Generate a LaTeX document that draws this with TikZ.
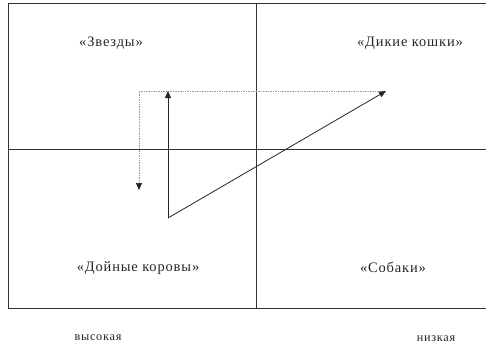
\documentclass[tikz,border=0pt]{standalone}
\usepackage{fontspec}
\setmainfont{Liberation Serif}
\newfontfamily\lblfont[LetterSpace=6]{Liberation Serif}
\usetikzlibrary{arrows.meta}
\begin{document}
\begin{tikzpicture}[x=1bp,y=-1bp,
  lbl/.style={font=\lblfont\fontsize{14.5}{16}\selectfont, text=black!85, inner sep=0pt},
  axislbl/.style={font=\lblfont\fontsize{12.3}{14}\selectfont, text=black!85, inner sep=0pt},
  frameline/.style={line width=0.9bp, black!80},
  solidarrow/.style={line width=0.8bp, black!85, -{Triangle[length=7bp,width=6bp]}},
  dotarrow/.style={line width=0.7bp, black!40, densely dotted, -{Triangle[length=7bp,width=6bp,color=black!85,fill=black!85]}}]
\useasboundingbox (0,0) rectangle (486,352);
% frame and dividers
\coordinate (tl) at (8,3);
\coordinate (tr) at (486,3);
\coordinate (bl) at (8,308);
\coordinate (br) at (486,308);
\coordinate (vt) at (256,3);
\coordinate (vb) at (256,308);
\coordinate (hl) at (8,149);
\coordinate (hr) at (486,149);
\draw[frameline] (tr) -- (tl) -- (bl) -- (br);
\draw[frameline, line width=0.8bp] (vt) -- (vb);
\draw[frameline, line width=0.8bp] (hl) -- (hr);
% labels
\node[lbl] (stars) at (111,43) {«Звезды»};
\node[lbl] (cats) at (410,43) {«Дикие кошки»};
\node[lbl] (cows) at (138,268) {«Дойные коровы»};
\node[lbl] (dogs) at (393,267) {«Собаки»};
\node[axislbl] (high) at (98,338) {высокая};
\node[axislbl] (low) at (436,339) {низкая};
% arrows
\coordinate (start) at (168,218);
\coordinate (uptip) at (168,91);
\coordinate (diagtip) at (386,91);
\coordinate (dstart) at (384,91);
\coordinate (dcorner) at (139,91);
\coordinate (dtip) at (139,190);
\draw[dotarrow] (dstart) -- (dcorner) -- (dtip);
\draw[solidarrow] (start) -- (uptip);
\draw[solidarrow] (start) -- (diagtip);
\end{tikzpicture}
\end{document}
